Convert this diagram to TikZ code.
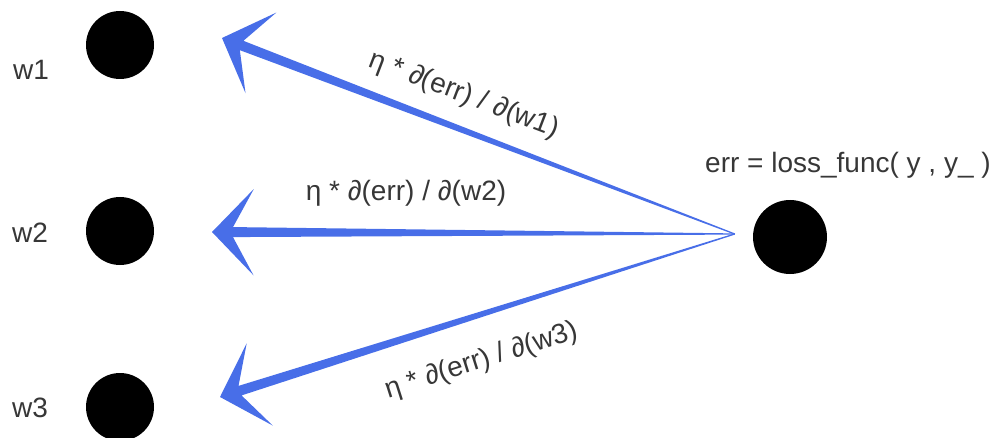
\documentclass[tikz,border=0pt]{standalone}
\usepackage{fontspec}
\setmainfont{Liberation Sans}
\usepackage{xcolor}
\usetikzlibrary{calc}

\definecolor{gradblue}{RGB}{72,110,232}
\definecolor{inkgray}{RGB}{55,55,55}

% tapered arrow: tip #1, thin end #2
\newcommand{\gradarrow}[2]{%
  \fill[gradblue] (#1) -- ($(#1)!60pt!46:(#2)$) -- ($(#1)!21.6pt!13.4:(#2)$)
    -- ($(#2)!0.6pt!-90:(#1)$) -- (#2) -- ($(#2)!0.6pt!90:(#1)$)
    -- ($(#1)!21.6pt!-13.4:(#2)$) -- ($(#1)!60pt!-46:(#2)$) -- cycle;}

\begin{document}
\begin{tikzpicture}[
  x=1pt, y=1pt,
  unit/.style={circle, fill=black, inner sep=0pt, minimum size=68pt},
  lbl/.style={text=inkgray, inner sep=0pt, font=\fontsize{28}{34}\selectfont}
]
\useasboundingbox (0,0) rectangle (1006,437);

\node[unit] (w1) at (120,392) {};
\node[unit] (w2) at (120,206) {};
\node[unit] (w3) at (120,30) {};
\node[unit, minimum size=74pt] (err) at (790,200) {};

\node[lbl, anchor=base west] (w1lbl) at (13,357) {w1};
\node[lbl, anchor=base west] (w2lbl) at (12,195) {w2};
\node[lbl, anchor=base west] (w3lbl) at (12,20) {w3};
\node[lbl, anchor=base west] (errlbl) at (705,264) {err = loss\_func( y , y\_ )};

\coordinate (apex) at ($(err.west)+(-18,3)$);
\coordinate (tip1) at (222,399);
\coordinate (tip2) at (212,205);
\coordinate (tip3) at (220,40);

\gradarrow{tip1}{apex}
\gradarrow{tip2}{apex}
\gradarrow{tip3}{apex}

\node[lbl, rotate=-20.9] (g1) at (464,342) {η * ∂(err) / ∂(w1)};
\node[lbl] (g2) at (406,244) {η * ∂(err) / ∂(w2)};
\node[lbl, rotate=17.6] (g3) at (482,76) {η * ∂(err) / ∂(w3)};
\end{tikzpicture}
\end{document}
